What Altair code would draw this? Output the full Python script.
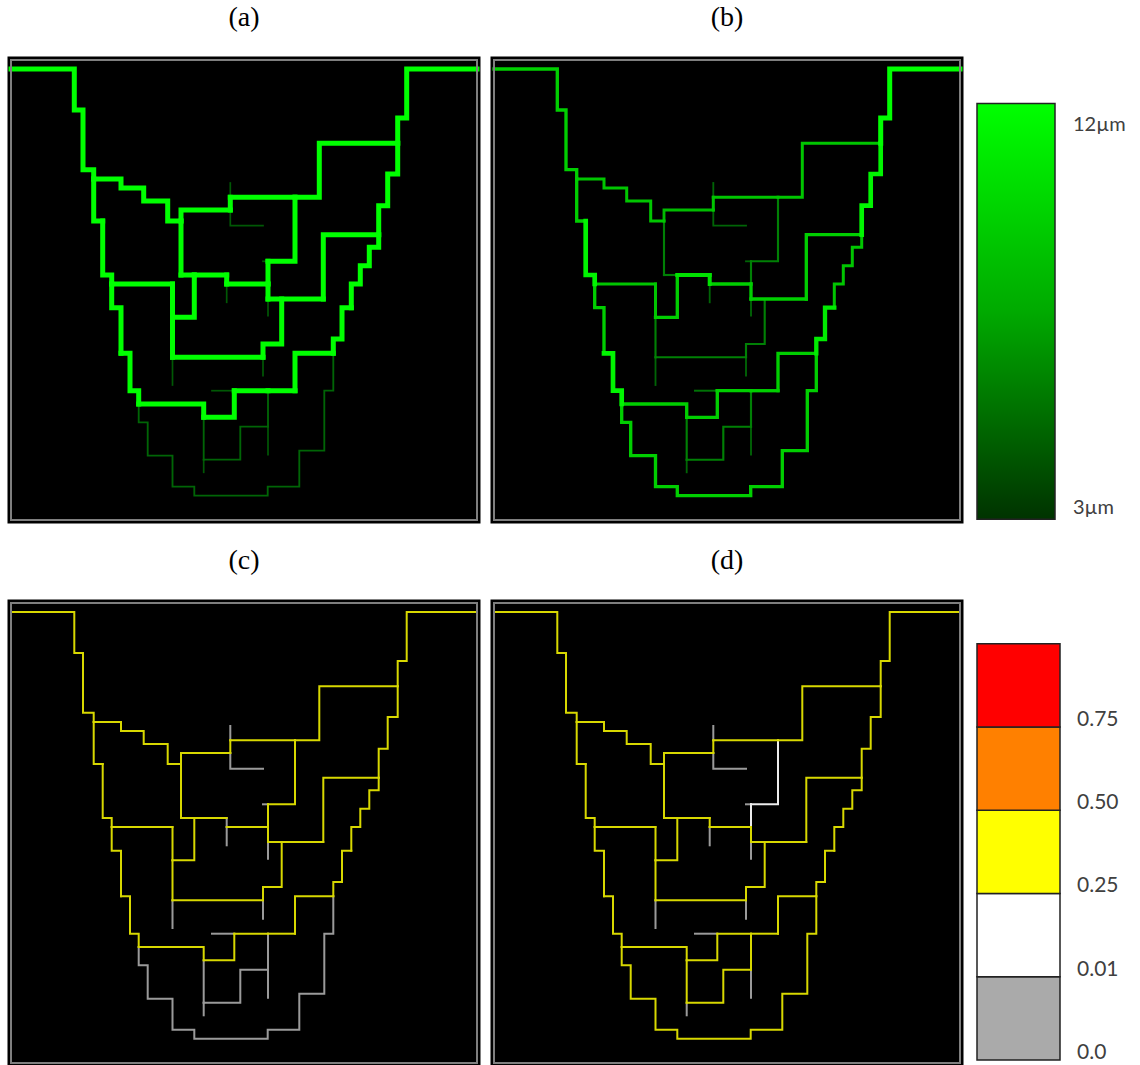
import altair as alt
import pandas as pd

# ---------------------------------------------------------------
# Network geometry: one polyline per vessel segment, in pixels of
# the panel frame (origin at the top-left corner, y pointing down).
# ---------------------------------------------------------------
PANEL_W = 466
PANEL_H = 460

edge_names = [
    "e1", "e2a", "e2b", "e3a", "e3b", "e4", "e5a", "e5b", "e6", "e7",
    "e8", "e9", "e10", "e11", "e12", "e13", "e14", "e15", "e16", "e17",
    "e18v", "e18h", "e19", "e20", "e21", "e22", "e23", "e24", "e25", "e26",
    "e27", "e28", "e29", "e30", "e31", "e32", "e33", "e34", "e36", "e37",
    "e38", "e39", "e40", "e41", "e42", "e43", "e44", "e45", "e46",
]

edge_paths = [
    [(0, 9), (63.3, 9), (63.3, 50), (72, 50), (72, 109.7), (82.7, 109.7), (82.7, 119)],
    [(82.7, 119), (82.7, 161), (91.7, 161)],
    [(91.7, 161), (91.7, 215), (100.7, 215), (100.7, 224)],
    [(100.7, 224), (100.7, 247.7), (110, 247.7), (110, 293.3)],
    [(110, 293.3), (119, 293.3), (119, 330.7), (127.7, 330.7), (127.7, 344)],
    [(127.7, 344), (127.7, 362.3), (136.7, 362.3), (136.7, 395.7), (161.5, 395.7),
     (161.5, 426.7), (183.3, 426.7), (183.3, 435.7), (256.7, 435.7), (256.7, 426.7),
     (288.3, 426.7), (288.3, 390.7), (313.3, 390.7), (313.3, 330.7), (322.3, 330.7),
     (322.3, 293.3)],
    [(322.3, 293.3), (322.3, 279), (331, 279), (331, 247.7), (340.3, 247.7)],
    [(340.3, 247.7), (340.3, 224), (349.3, 224), (349.3, 205.7), (358.3, 205.7),
     (358.3, 187.3), (367.7, 187.3), (367.7, 174.7)],
    [(367.7, 174.7), (367.7, 145.7), (376.7, 145.7), (376.7, 114), (386.7, 114), (386.7, 83.3)],
    [(386.7, 83.3), (386.7, 58), (395.7, 58), (395.7, 9), (466, 9)],
    [(82.7, 119), (110, 119), (110, 128), (132.7, 128), (132.7, 141), (156.7, 141),
     (156.7, 161), (170, 161)],
    [(170, 161), (170, 150), (219.3, 150)],
    [(219.3, 150), (219.3, 137.3)],
    [(219.3, 137.3), (284, 137.3)],
    [(284, 137.3), (308.3, 137.3), (308.3, 83.3), (386.7, 83.3)],
    [(219.3, 137.3), (219.3, 123)],
    [(219.3, 150), (219.3, 165.7), (252, 165.7)],
    [(170, 161), (170, 215)],
    [(170, 215), (183.3, 215)],
    [(183.3, 215), (215.7, 215)],
    [(215.7, 215), (215.7, 224)],
    [(215.7, 224), (257, 224)],
    [(215.7, 224), (215.7, 242.3)],
    [(183.3, 215), (183.3, 257.3), (161.5, 257.3)],
    [(100.7, 224), (161.5, 224)],
    [(161.5, 224), (161.5, 257.3)],
    [(161.5, 257.3), (161.5, 297.3)],
    [(161.5, 297.3), (161.5, 325)],
    [(161.5, 297.3), (252, 297.3)],
    [(252, 297.3), (252, 315.7)],
    [(252, 297.3), (252, 284), (270.7, 284), (270.7, 239)],
    [(257, 239), (312.3, 239)],
    [(312.3, 239), (312.3, 174.7), (367.7, 174.7)],
    [(257, 224), (257, 239)],
    [(257, 239), (257, 255.7)],
    [(257, 201.3), (257, 224)],
    [(284, 137.3), (284, 201.3), (257, 201.3)],
    [(257, 201.3), (252, 201.3)],
    [(322.3, 293.3), (284, 293.3), (284, 330.7)],
    [(284, 330.7), (257, 330.7)],
    [(257, 330.7), (223.3, 330.7)],
    [(223.3, 330.7), (201, 330.7)],
    [(223.3, 330.7), (223.3, 357.3), (192.7, 357.3)],
    [(127.7, 344), (192.7, 344), (192.7, 357.3)],
    [(192.7, 357.3), (192.7, 399.7)],
    [(192.7, 399.7), (192.7, 412.3)],
    [(192.7, 399.7), (229.3, 399.7), (229.3, 366.7), (257, 366.7)],
    [(257, 330.7), (257, 366.7)],
    [(257, 366.7), (257, 394.7)],
]

# vessel diameter (µm) per segment, panels (a) and (b)
diam_a = [
    12, 12, 12, 12, 12, 5, 12, 12, 12, 12,
    12, 12, 12, 12, 12, 4.5, 4.5, 12, 12, 12,
    12, 12, 4.5, 12, 12, 12, 12, 4.5, 12, 4.5,
    12, 12, 12, 12, 4.5, 12, 12, 4.5, 12, 12,
    12, 4.5, 12, 12, 5, 4.5, 5, 5, 4.5,
]
diam_b = [
    9.5, 9.5, 11.5, 9.5, 11.5, 9.5, 11, 9, 11.5, 12,
    9, 8.5, 9, 9, 9, 5, 5, 6, 6, 10.5,
    10.5, 9.5, 5, 9.5, 9, 9, 6, 5, 6, 5,
    6, 9.5, 9.5, 9.5, 5, 6, 6, 5, 9.5, 9.5,
    9.5, 5.5, 9.5, 9.5, 6, 5, 6, 6, 5,
]

# flow class per segment, panels (c) and (d):
# 0 -> [0.0, 0.01), 1 -> [0.01, 0.25), 2 -> [0.25, 0.50), 3 -> [0.50, 0.75), 4 -> >= 0.75
flow_c = [
    2, 2, 2, 2, 2, 0, 2, 2, 2, 2,
    2, 2, 2, 2, 2, 0, 0, 2, 2, 2,
    0, 2, 0, 2, 2, 2, 2, 0, 2, 0,
    2, 2, 2, 2, 0, 2, 2, 0, 2, 2,
    2, 0, 2, 2, 0, 0, 0, 0, 0,
]
flow_d = [
    2, 2, 2, 2, 2, 2, 2, 2, 2, 2,
    2, 2, 2, 2, 2, 0, 0, 2, 2, 2,
    2, 2, 0, 2, 2, 2, 2, 0, 2, 0,
    2, 2, 2, 2, 0, 1, 1, 0, 2, 2,
    2, 0, 2, 2, 2, 0, 2, 2, 0,
]

# colour bars
diam_ticks = [12, 3]
diam_tick_labels = ["12µm", "3µm"]
diam_bar = [2.75, 12.5]          # extent of the gradient bar (µm)

flow_classes = [0, 1, 2, 3, 4]
flow_bounds = [0, 1, 2, 3, 4]     # lower boundary of each box
flow_labels = ["0.0", "0.01", "0.25", "0.50", "0.75"]
flow_box_colors = ["#aaaaaa", "#ffffff", "#ffff00", "#ff8000", "#ff0000"]
flow_line_colors = ["#9a9a9a", "#ececec", "#d8d800", "#ff8000", "#ff0000"]

GREEN_DOMAIN = [3, 7.5, 12]
GREEN_RANGE = ["#003300", "#00aa00", "#00ff00"]
WIDTH_DOMAIN = [4.5, 9, 12]
WIDTH_RANGE = [1.7, 3, 5]

TITLE_FONT = "Liberation Serif"
LABEL_FONT = "Lato"


def edge_table(values, field):
    rows = []
    for name, path, val in zip(edge_names, edge_paths, values):
        for i, (u, v) in enumerate(path):
            rows.append({"edge": name, "idx": i, "u": u, "v": v, field: val})
    df = pd.DataFrame(rows)
    # thinner / weaker vessels first so the main channels sit on top
    return df.sort_values([field, "edge", "idx"], kind="stable").reset_index(drop=True)


x_scale = alt.Scale(domain=[0, PANEL_W], nice=False, zero=False)
y_scale = alt.Scale(domain=[0, PANEL_H], nice=False, zero=False, reverse=True)


def frame_layer():
    frame_df = pd.DataFrame({"x0": [0], "x1": [PANEL_W], "y0": [0], "y1": [PANEL_H]})
    return alt.Chart(frame_df).mark_rect(
        fillOpacity=0, stroke="#7f7f7f", strokeWidth=2
    ).encode(
        x=alt.X("x0:Q", scale=x_scale, axis=None),
        x2="x1:Q",
        y=alt.Y("y0:Q", scale=y_scale, axis=None),
        y2="y1:Q",
    )


def panel_title(text):
    return alt.TitleParams(
        text=text, font=TITLE_FONT, fontSize=28, fontWeight="normal",
        color="black", anchor="middle", baseline="alphabetic", offset=5,
    )


PANEL_VIEW = alt.ViewBackground(fill="black", stroke="black", strokeWidth=7)


def diameter_panel(title, values):
    df = edge_table(values, "diam")
    lines = alt.Chart(df).mark_line(strokeCap="square", strokeJoin="miter").encode(
        x=alt.X("u:Q", scale=x_scale, axis=None),
        y=alt.Y("v:Q", scale=y_scale, axis=None),
        detail="edge:N",
        order=alt.Order("idx:Q"),
        color=alt.Color("diam:Q", scale=alt.Scale(domain=GREEN_DOMAIN, range=GREEN_RANGE, clamp=True), legend=None),
        strokeWidth=alt.StrokeWidth("diam:Q", scale=alt.Scale(domain=WIDTH_DOMAIN, range=WIDTH_RANGE, clamp=True), legend=None),
    )
    return alt.layer(lines, frame_layer()).properties(
        width=PANEL_W, height=PANEL_H, title=panel_title(title), view=PANEL_VIEW
    )


def flow_panel(title, values):
    df = edge_table(values, "cls")
    lines = alt.Chart(df).mark_line(strokeCap="square", strokeJoin="miter", strokeWidth=2).encode(
        x=alt.X("u:Q", scale=x_scale, axis=None),
        y=alt.Y("v:Q", scale=y_scale, axis=None),
        detail="edge:N",
        order=alt.Order("idx:Q"),
        color=alt.Color("cls:O", scale=alt.Scale(domain=flow_classes, range=flow_line_colors), legend=None),
    )
    return alt.layer(lines, frame_layer()).properties(
        width=PANEL_W, height=PANEL_H, title=panel_title(title), view=PANEL_VIEW
    )


# ---------------- gradient colour bar (diameter) ----------------
cb_x = alt.Scale(domain=[0, 1], nice=False, zero=False)
cb1_y = alt.Scale(domain=[2.73, 13.52], nice=False, zero=False)

cb1_bar_df = pd.DataFrame({"l": [0], "r": [1], "lo": [diam_bar[0]], "hi": [diam_bar[1]]})
cb1_bar = alt.Chart(cb1_bar_df).mark_rect(
    fill=alt.LinearGradient(
        gradient="linear",
        stops=[
            alt.GradientStop(offset=0, color=GREEN_RANGE[0]),
            alt.GradientStop(offset=0.5, color=GREEN_RANGE[1]),
            alt.GradientStop(offset=1, color=GREEN_RANGE[2]),
        ],
        x1=0, x2=0, y1=1, y2=0,
    ),
    stroke="#222222", strokeWidth=1.5,
).encode(
    x=alt.X("l:Q", scale=cb_x, axis=None), x2="r:Q",
    y=alt.Y("lo:Q", scale=cb1_y, axis=None), y2="hi:Q",
)
cb1_text_df = pd.DataFrame({"x": [1] * len(diam_ticks), "val": diam_ticks, "label": diam_tick_labels})
cb1_text = alt.Chart(cb1_text_df).mark_text(
    align="left", baseline="middle", dx=18, font=LABEL_FONT, fontSize=20, color="#404040"
).encode(
    x=alt.X("x:Q", scale=cb_x, axis=None),
    y=alt.Y("val:Q", scale=cb1_y, axis=None),
    text="label:N",
)
colorbar_diam = alt.layer(cb1_bar, cb1_text).properties(width=78, height=PANEL_H)

# ---------------- discrete colour bar (flow fraction) ----------------
cb2_y = alt.Scale(domain=[-0.036, 5.489], nice=False, zero=False)
cb2_df = pd.DataFrame({
    "l": [0] * 5, "r": [1] * 5,
    "lo": flow_bounds, "hi": [b + 1 for b in flow_bounds],
    "cls": flow_classes,
})
cb2_boxes = alt.Chart(cb2_df).mark_rect(stroke="#222222", strokeWidth=1.5).encode(
    x=alt.X("l:Q", scale=cb_x, axis=None), x2="r:Q",
    y=alt.Y("lo:Q", scale=cb2_y, axis=None), y2="hi:Q",
    fill=alt.Fill("cls:O", scale=alt.Scale(domain=flow_classes, range=flow_box_colors), legend=None),
)
cb2_text_df = pd.DataFrame({"x": [1] * 5, "val": flow_bounds, "label": flow_labels})
cb2_text = alt.Chart(cb2_text_df).mark_text(
    align="left", baseline="middle", dx=17, dy=-7, font=LABEL_FONT, fontSize=21, color="#404040"
).encode(
    x=alt.X("x:Q", scale=cb_x, axis=None),
    y=alt.Y("val:Q", scale=cb2_y, axis=None),
    text="label:N",
)
colorbar_flow = alt.layer(cb2_boxes, cb2_text).properties(width=83, height=PANEL_H)

# ---------------- assemble ----------------
panel_a = diameter_panel("(a)", diam_a)
panel_b = diameter_panel("(b)", diam_b)
panel_c = flow_panel("(c)", flow_c)
panel_d = flow_panel("(d)", flow_d)

chart = alt.concat(
    panel_a, panel_b, colorbar_diam,
    panel_c, panel_d, colorbar_flow,
    columns=3,
    spacing={"row": 83, "column": 17},
    bounds="flush",
).resolve_scale(
    x="independent", y="independent", color="independent",
    strokeWidth="independent", fill="independent",
).configure_view(
    strokeWidth=0
).properties(
    padding={"left": -3, "top": 0, "right": 10, "bottom": 4},
    background="white",
)

chart.save("out.html", embed_options={"renderer": "svg", "actions": False})
